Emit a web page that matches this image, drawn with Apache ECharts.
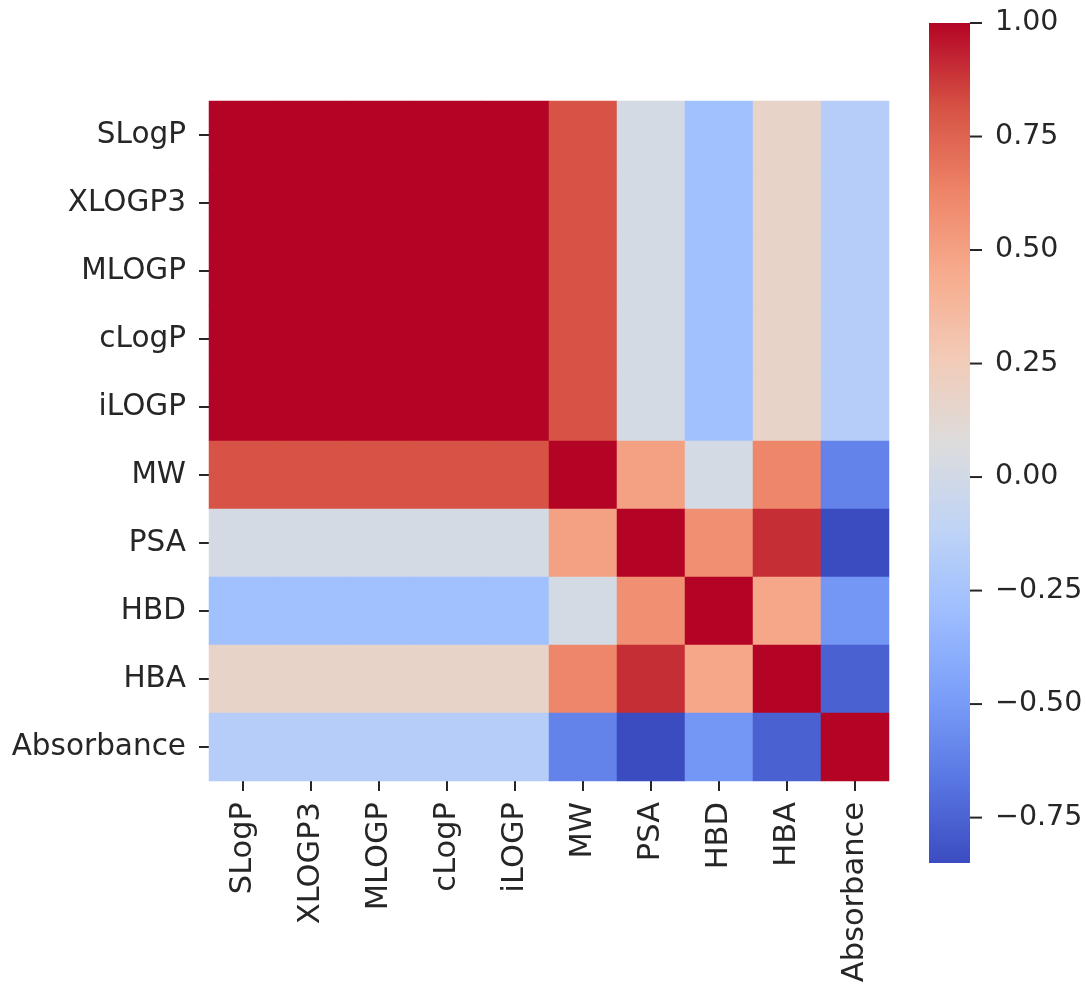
<!DOCTYPE html>
<html>
<head>
<meta charset="utf-8">
<script src="https://cdn.jsdelivr.net/npm/echarts@6/dist/echarts.min.js"></script>
<style>
html,body{margin:0;padding:0;background:#fff;}
#chart{width:1086px;height:986px;}
</style>
</head>
<body>
<div id="chart"></div>
<script>
// Categories (rows top->bottom and columns left->right)
const categories = ['SLogP','XLOGP3','MLOGP','cLogP','iLOGP','MW','PSA','HBD','HBA','Absorbance'];

// Correlation matrix rows
const rowSLogP      = [1.00, 1.00, 1.00, 1.00, 1.00, 0.81, 0.02, -0.28, 0.17, -0.17];
const rowXLOGP3     = [1.00, 1.00, 1.00, 1.00, 1.00, 0.81, 0.02, -0.28, 0.17, -0.17];
const rowMLOGP      = [1.00, 1.00, 1.00, 1.00, 1.00, 0.81, 0.02, -0.28, 0.17, -0.17];
const rowcLogP      = [1.00, 1.00, 1.00, 1.00, 1.00, 0.81, 0.02, -0.28, 0.17, -0.17];
const rowiLOGP      = [1.00, 1.00, 1.00, 1.00, 1.00, 0.81, 0.02, -0.28, 0.17, -0.17];
const rowMW         = [0.81, 0.81, 0.81, 0.81, 0.81, 1.00, 0.50, 0.02, 0.62, -0.61];
const rowPSA        = [0.02, 0.02, 0.02, 0.02, 0.02, 0.50, 1.00, 0.58, 0.90, -0.85];
const rowHBD        = [-0.28, -0.28, -0.28, -0.28, -0.28, 0.02, 0.58, 1.00, 0.47, -0.52];
const rowHBA        = [0.17, 0.17, 0.17, 0.17, 0.17, 0.62, 0.90, 0.47, 1.00, -0.76];
const rowAbsorbance = [-0.17, -0.17, -0.17, -0.17, -0.17, -0.61, -0.85, -0.52, -0.76, 1.00];
const matrixRows = [rowSLogP, rowXLOGP3, rowMLOGP, rowcLogP, rowiLOGP, rowMW, rowPSA, rowHBD, rowHBA, rowAbsorbance];

// Colour bar range and tick labels
const colorMin = -0.85;
const colorMax = 1.0;
const colorbarTicks = [-0.75, -0.5, -0.25, 0, 0.25, 0.5, 0.75, 1.0];

// coolwarm colormap stops (low -> high)
const coolwarm = ['#3b4cc0','#5977e3','#7b9ff9','#9ebeff','#c0d4f5','#dddcdc','#f2cbb7','#f7ac8e','#ee8468','#d65244','#b40426'];

const heatData = [];
matrixRows.forEach((row, r) => row.forEach((v, c) => heatData.push([c, r, v])));

const textColor = '#262626';
const fontFamily = 'DejaVu Sans';

// gradient for the colour bar: top = max, bottom = min
const barStops = coolwarm.map((c, i) => ({offset: 1 - i / (coolwarm.length - 1), color: c})).reverse();

const chart = echarts.init(document.getElementById('chart'));
chart.setOption({
  animation: false,
  backgroundColor: '#ffffff',
  textStyle: {fontFamily: fontFamily},
  grid: [
    {left: 209, top: 101, width: 680, height: 680},
    {left: 929, top: 23, width: 41, height: 840}
  ],
  xAxis: [
    {
      type: 'category', gridIndex: 0, data: categories, position: 'bottom',
      axisLine: {show: false},
      axisTick: {show: true, alignWithLabel: true, length: 10, lineStyle: {color: textColor, width: 2}},
      axisLabel: {rotate: 90, fontSize: 30.5, color: textColor, margin: 21, fontFamily: fontFamily},
      splitLine: {show: false}
    },
    {type: 'value', gridIndex: 1, show: false, min: 0, max: 1}
  ],
  yAxis: [
    {
      type: 'category', gridIndex: 0, data: categories, inverse: true,
      axisLine: {show: false},
      axisTick: {show: true, alignWithLabel: true, length: 10, lineStyle: {color: textColor, width: 2}},
      axisLabel: {fontSize: 29.5, color: textColor, margin: 23, fontFamily: fontFamily},
      splitLine: {show: false}
    },
    {
      type: 'value', gridIndex: 1, position: 'right', min: colorMin, max: colorMax,
      axisLine: {show: false},
      axisTick: {show: false},
      axisLabel: {
        show: true, fontSize: 28.5, color: textColor, margin: 25, fontFamily: fontFamily,
        customValues: colorbarTicks,
        formatter: v => (v < 0 ? '\u2212' : '') + Math.abs(v).toFixed(2)
      },
      splitLine: {show: false}
    }
  ],
  visualMap: {
    type: 'continuous',
    show: false,
    seriesIndex: 0,
    min: colorMin, max: colorMax,
    inRange: {color: coolwarm}
  },
  series: [
    {
      type: 'heatmap',
      xAxisIndex: 0, yAxisIndex: 0,
      data: heatData,
      itemStyle: {borderWidth: 0},
      emphasis: {disabled: true},
      progressive: 0
    },
    {
      // colour bar body
      type: 'custom',
      xAxisIndex: 1, yAxisIndex: 1,
      silent: true,
      clip: false,
      data: [[0, 1, colorMin, colorMax]],
      renderItem: function (params, api) {
        const p0 = api.coord([api.value(0), api.value(3)]);
        const p1 = api.coord([api.value(1), api.value(2)]);
        return {
          type: 'rect',
          shape: {x: p0[0], y: p0[1], width: p1[0] - p0[0], height: p1[1] - p0[1]},
          style: {fill: new echarts.graphic.LinearGradient(0, 0, 0, 1, barStops)}
        };
      }
    },
    {
      // colour bar tick marks (outside, right side)
      type: 'custom',
      xAxisIndex: 1, yAxisIndex: 1,
      silent: true,
      clip: false,
      data: colorbarTicks.map(v => [1, v]),
      renderItem: function (params, api) {
        const p = api.coord([api.value(0), api.value(1)]);
        return {
          type: 'line',
          shape: {x1: p[0], y1: p[1], x2: p[0] + 12, y2: p[1]},
          style: {stroke: textColor, lineWidth: 2}
        };
      }
    }
  ]
});
</script>
</body>
</html>
